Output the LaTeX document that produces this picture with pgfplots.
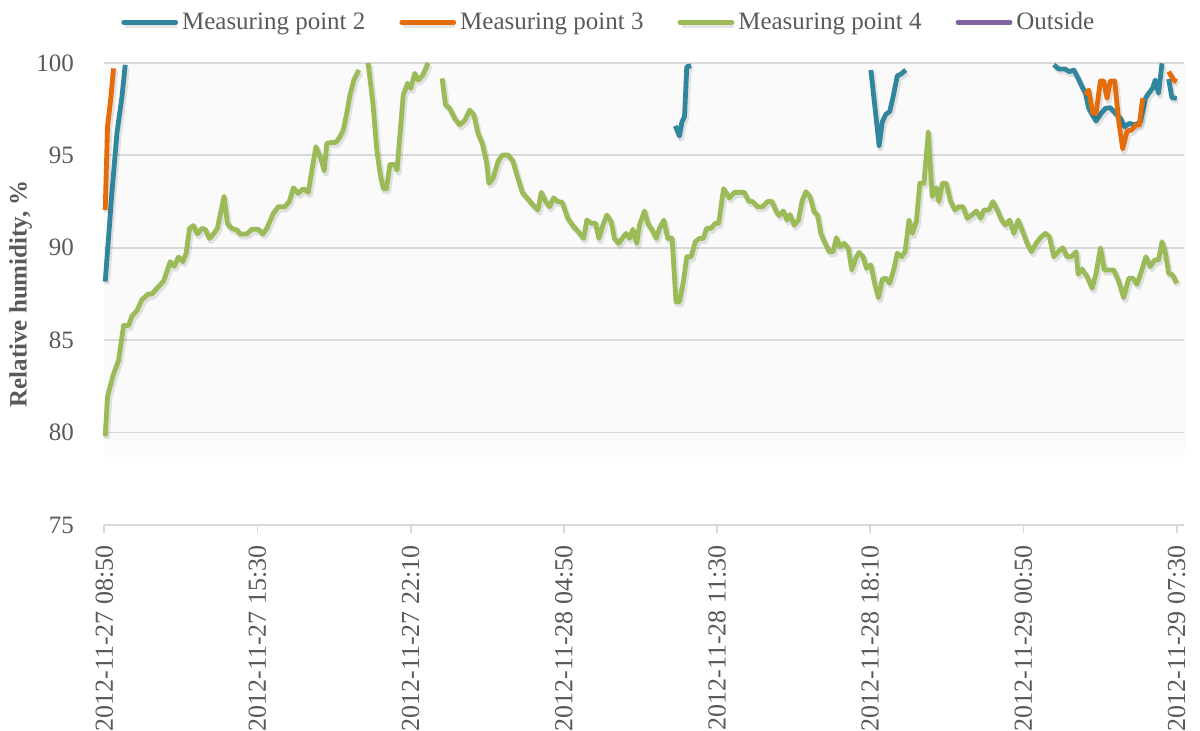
\documentclass[border=0pt]{standalone}
\usepackage{fontspec}
\setmainfont{Liberation Serif}
\usepackage{pgfplots}
\pgfplotsset{compat=1.18}
\definecolor{mptwo}{HTML}{31859C}
\definecolor{mpthree}{HTML}{E46C0A}
\definecolor{mpfour}{HTML}{9BBB59}
\definecolor{outs}{HTML}{8064A2}
\definecolor{txt}{HTML}{595959}
\definecolor{grd}{HTML}{D9D9D9}
\definecolor{bgs}{HTML}{FAFAFA}
\pgfdeclareverticalshading{plotbg}{100bp}{color(0bp)=(white); color(32bp)=(white); color(34bp)=(bgs); color(100bp)=(bgs)}
\newcommand{\lblfont}{\fontsize{12.5}{15}\selectfont}
\tikzset{series/.style={#1, line width=2.4pt, line join=round,
  preaction={draw=black, draw opacity=0.10, line width=3pt, transform canvas={xshift=0.8pt,yshift=-1.3pt}}}}
\begin{document}
\begin{tikzpicture}
\useasboundingbox (-52.15pt,-103pt) rectangle (547.85pt,262.5pt);
\begin{axis}[
  at={(0,0)}, anchor=south west,
  scale only axis, width=540pt, height=231pt,
  xmin=0, xmax=47, ymin=75, ymax=100,
  clip=false,
  unbounded coords=jump,
  axis lines*=left,
  x axis line style={grd, line width=0.9pt, -},
  y axis line style={draw=none},
  axis background/.style={shading=plotbg},
  ymajorgrids, grid style={grd, line width=0.9pt},
  ytick={75,80,85,90,95,100},
  xtick={0,6.66667,13.33333,20,26.66667,33.33333,40,46.66667},
  xticklabels={2012-11-27 08:50,2012-11-27 15:30,2012-11-27 22:10,2012-11-28 04:50,2012-11-28 11:30,2012-11-28 18:10,2012-11-29 00:50,2012-11-29 07:30},
  tick align=outside, major tick length=4pt,
  x tick style={grd, line width=0.9pt},
  y tick style={draw=none},
  /pgf/number format/assume math mode=true,
  tick label style={font=\lblfont, text=txt},
  xticklabel style={rotate=90, anchor=east, inner sep=0pt, xshift=-6pt, font=\fontsize{13}{15}\selectfont},
  yticklabel style={anchor=east, inner sep=0pt, xshift=-11pt},
  ylabel={\bfseries Relative humidity, \%},
  ylabel style={font=\lblfont, text=txt, at={(axis description cs:-0.0775,0.5)}, anchor=center},
  legend columns=4,
  legend style={at={(0.468,1.088)}, anchor=center, draw=none, fill=none, font=\lblfont, text=txt,
    /tikz/every even column/.append style={column sep=15pt}},
  legend image code/.code={\draw[#1, line cap=round, preaction={draw=none}] (0pt,0pt) -- (26pt,0pt);},
]
% Measuring point 2
\addplot[series=mptwo] table {
h v
0.04 88.17
0.33 92.95
0.55 96.2
0.77 98.18
0.91 99.9
nan nan
24.85 96.6
25.03 96.05
25.14 96.82
25.25 97.1
25.35 99.8
25.54 99.85
nan nan
33.36 99.62
33.72 95.53
33.86 96.82
34.01 97.22
34.18 97.37
34.33 98.18
34.51 99.31
34.66 99.39
34.88 99.62
nan nan
41.32 99.9
41.54 99.68
41.80 99.68
42.00 99.53
42.19 99.62
42.38 99.17
42.55 98.72
42.70 98.36
42.84 97.55
42.99 97.22
43.16 96.86
43.35 97.22
43.57 97.55
43.78 97.58
44.00 97.28
44.22 97.0
44.41 96.55
44.61 96.73
44.87 96.65
45.09 96.82
45.31 98.09
45.45 98.36
45.62 98.63
45.74 99.08
45.88 98.36
46.03 99.98
nan nan
46.32 99.13
46.46 98.12
46.67 98.09
};
\addlegendentry{Measuring point 2}
% Measuring point 3
\addplot[series=mpthree] table {
h v
0.04 92.05
0.14 96.55
0.29 98.18
0.40 99.71
nan nan
42.70 98.27
42.84 98.54
43.02 97.28
43.16 97.28
43.35 99.03
43.49 99.03
43.64 98.09
43.78 99.03
43.97 99.03
44.15 96.82
44.32 95.35
44.51 96.32
44.70 96.37
44.90 96.65
45.04 96.65
45.19 98.09
nan nan
46.32 99.53
46.54 99.08
46.67 98.99
};
\addlegendentry{Measuring point 3}
% Measuring point 4
\addplot[series=mpfour] table {
h v
0.04 79.8
0.14 81.95
0.38 83.1
0.62 83.9
0.84 85.8
1.06 85.8
1.20 86.3
1.42 86.6
1.64 87.2
1.92 87.5
2.07 87.5
2.36 87.9
2.58 88.2
2.87 89.25
3.04 89.0
3.23 89.5
3.42 89.25
3.56 89.7
3.71 91.05
3.88 91.2
4.05 90.75
4.25 91.05
4.39 91.0
4.58 90.5
4.75 90.75
4.92 91.05
5.21 92.77
5.36 91.3
5.55 91.05
5.77 90.96
5.91 90.75
6.20 90.75
6.42 91.0
6.70 91.0
6.90 90.75
7.07 91.05
7.36 91.87
7.57 92.22
7.86 92.22
8.05 92.5
8.23 93.25
8.44 92.95
8.66 93.2
8.88 93.0
9.02 94.1
9.21 95.47
9.42 94.84
9.57 94.16
9.68 95.65
9.89 95.7
10.08 95.7
10.25 96.0
10.40 96.37
10.55 97.28
10.69 98.27
10.86 99.08
11.08 99.62
nan nan
11.48 100.0
11.70 97.7
11.85 95.4
11.99 94.1
12.14 93.2
12.28 93.2
12.43 94.5
12.64 94.5
12.74 94.2
12.89 96.47
13.01 98.27
13.20 98.9
13.34 98.63
13.51 99.44
13.66 99.08
13.85 99.31
14.09 100.0
nan nan
14.70 99.17
14.85 97.73
15.03 97.55
15.25 97.0
15.47 96.65
15.69 96.9
15.90 97.45
16.08 97.2
16.26 96.2
16.45 95.65
16.63 94.66
16.74 93.49
16.92 93.76
17.13 94.66
17.32 95.02
17.57 95.02
17.78 94.7
18.00 93.76
18.19 93.0
18.44 92.64
18.65 92.32
18.87 92.05
19.02 93.0
19.21 92.5
19.38 92.22
19.55 92.7
19.74 92.5
19.93 92.46
20.17 91.6
20.39 91.2
20.65 90.84
20.86 90.51
21.00 91.5
21.19 91.33
21.38 91.33
21.52 90.51
21.70 91.23
21.87 91.77
22.06 91.41
22.20 90.51
22.39 90.24
22.59 90.6
22.71 90.78
22.86 90.51
23.00 91.0
23.17 90.24
23.29 91.23
23.51 91.99
23.65 91.33
23.84 90.96
24.02 90.51
24.16 91.05
24.35 91.5
24.52 90.51
24.71 90.51
24.88 87.08
25.03 87.08
25.20 88.17
25.35 89.52
25.54 89.52
25.72 90.33
25.90 90.51
26.07 90.51
26.21 91.05
26.40 91.05
26.59 91.33
26.74 91.33
26.95 93.2
27.20 92.7
27.42 93.0
27.63 93.0
27.85 93.0
28.04 92.53
28.21 92.5
28.43 92.22
28.65 92.22
28.86 92.5
29.06 92.5
29.23 91.99
29.37 91.74
29.55 91.99
29.71 91.5
29.84 91.8
30.02 91.23
30.21 91.5
30.36 92.5
30.53 93.04
30.71 92.77
30.89 91.95
31.04 91.77
31.18 90.78
31.37 90.24
31.55 89.79
31.72 89.79
31.86 90.55
32.01 90.06
32.20 90.24
32.38 89.97
32.53 88.8
32.71 89.46
32.85 89.75
33.02 89.52
33.17 88.89
33.36 89.07
33.54 87.99
33.69 87.3
33.86 88.31
34.01 88.35
34.18 88.08
34.37 88.89
34.51 89.7
34.70 89.52
34.85 89.79
35.02 91.5
35.17 90.78
35.34 91.41
35.49 93.49
35.67 93.49
35.86 96.25
36.03 92.77
36.21 93.25
36.32 92.5
36.47 93.49
36.64 93.49
36.83 92.5
37.02 92.05
37.19 92.22
37.37 92.22
37.55 91.6
37.75 91.77
37.95 91.99
38.14 91.6
38.28 92.05
38.50 92.05
38.67 92.5
38.86 92.05
39.05 91.5
39.22 91.23
39.40 91.5
39.58 90.78
39.77 91.5
39.97 90.87
40.16 90.24
40.35 89.79
40.55 90.24
40.74 90.55
40.96 90.78
41.13 90.6
41.32 89.52
41.51 89.79
41.71 90.0
41.90 89.52
42.09 89.52
42.29 89.79
42.38 88.57
42.55 88.85
42.77 88.44
42.99 87.81
43.16 88.62
43.35 90.0
43.52 88.8
43.71 88.8
43.93 88.8
44.15 88.17
44.36 87.3
44.58 88.35
44.77 88.35
44.94 88.02
45.13 88.71
45.33 89.52
45.52 88.98
45.71 89.34
45.88 89.34
46.03 90.33
46.18 89.7
46.32 88.62
46.49 88.53
46.67 88.08
};
\addlegendentry{Measuring point 4}
\addlegendimage{outs, line width=2.4pt}
\addlegendentry{Outside}
\end{axis}
\end{tikzpicture}
\end{document}
